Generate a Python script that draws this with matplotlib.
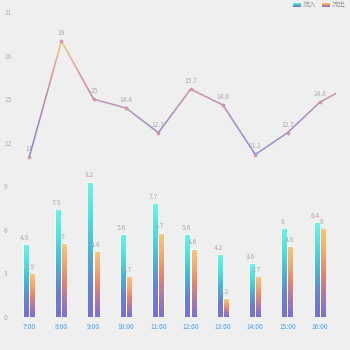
import matplotlib
matplotlib.use('Agg')
import matplotlib.pyplot as plt
import numpy as np
from matplotlib.collections import LineCollection
from matplotlib.colors import LinearSegmentedColormap, Normalize

plt.rcParams['font.family'] = ['Noto Sans CJK SC', 'DejaVu Sans']

# data
hours = ['7:00', '8:00', '9:00', '10:00', '11:00', '12:00', '13:00', '14:00', '15:00', '16:00']
inflow = [4.9, 7.3, 9.2, 5.6, 7.7, 5.6, 4.2, 3.6, 6, 6.4]
outflow = [2.9, 5, 4.4, 2.7, 5.7, 4.6, 1.2, 2.7, 4.8, 6]
# top line, last value runs off the right edge
line_vals = [11, 19, 15, 14.4, 12.7, 15.7, 14.6, 11.2, 12.7, 14.8, 16]
top_ticks = [12, 15, 18, 21]
bottom_ticks = [0, 3, 6, 9]

bg = '#efefef'
grey = '#aaaaaa'
blue = '#4a9fe6'

in_cmap = LinearSegmentedColormap.from_list('in', ['#7870d4', '#6284d0', '#44b8d6', '#4ee0de', '#6af2ec'])
out_cmap = LinearSegmentedColormap.from_list('out', ['#7870d4', '#ae78a8', '#e6846e', '#f4aa6c', '#f8c478'])
line_cmap = LinearSegmentedColormap.from_list('ln', ['#7d7fdc', '#a27fbc', '#cf8890', '#f6c47c'])

fig = plt.figure(figsize=(3.5, 3.5), dpi=100, facecolor=bg)

# ---------------- top line chart ----------------
ax1 = fig.add_axes([0.0371, 0.5086, 0.923, 0.478])
ax1.set_facecolor('none')
x = np.arange(len(line_vals))
ax1.set_xlim(-0.5, 9.5)
ax1.set_ylim(10, 21.5)

xs, ys = [], []
for i in range(len(line_vals) - 1):
    t = np.linspace(0, 1, 40, endpoint=False)
    xs.extend(x[i] + t)
    ys.extend(line_vals[i] + (line_vals[i + 1] - line_vals[i]) * t)
xs.append(x[-1]); ys.append(line_vals[-1])
xs = np.array(xs); ys = np.array(ys)
pts = np.array([xs, ys]).T.reshape(-1, 1, 2)
segs = np.concatenate([pts[:-1], pts[1:]], axis=1)
lc = LineCollection(segs, cmap=line_cmap, norm=Normalize(11, 19), linewidth=1.1)
lc.set_array((ys[:-1] + ys[1:]) / 2)
ax1.add_collection(lc)
ax1.scatter(x[:10], line_vals[:10], s=5, color='#ee9a8a', edgecolor='#b088c0', linewidth=0.4, zorder=3)
for i in range(10):
    v = line_vals[i]
    ax1.annotate('%g' % v, (x[i], v), xytext=(0, 3), textcoords='offset points',
                 ha='center', va='bottom', fontsize=4.8, color=grey)

ax1.set_yticks(top_ticks)
ax1.set_xticks([])
ax1.tick_params(axis='y', length=0, labelsize=4.8, labelcolor=grey, pad=1)
for s in ax1.spines.values():
    s.set_visible(False)

# ---------------- bottom bar chart ----------------
ax2 = fig.add_axes([0.0371, 0.0943, 0.923, 0.395])
ax2.set_facecolor('none')
bw = 0.135
off = 0.095
grad = np.linspace(0, 1, 256).reshape(-1, 1)
for i in range(len(hours)):
    for val, dx, cm in [(inflow[i], -off, in_cmap), (outflow[i], off, out_cmap)]:
        x0 = i + dx - bw / 2
        ax2.bar(i + dx, val + 0.08, width=bw + 0.06, color='white', alpha=0.7, linewidth=0, zorder=1)
        ax2.imshow(grad, cmap=cm, origin='lower', aspect='auto',
                   extent=[x0, x0 + bw, 0, val], zorder=2)
        ax2.text(i + dx - 0.05, val + 0.25, '%g' % val, ha='center', va='bottom',
                 fontsize=4.8, color=grey, zorder=3)
ax2.set_xlim(-0.5, 9.5)
ax2.set_ylim(0, 9.5)
ax2.set_xticks(range(len(hours)))
ax2.set_xticklabels(hours)
ax2.set_yticks(bottom_ticks)
ax2.tick_params(axis='x', length=0, labelsize=4.8, labelcolor=blue, pad=4)
ax2.tick_params(axis='y', length=0, labelsize=4.8, labelcolor=grey, pad=4)
for s in ax2.spines.values():
    s.set_visible(False)

# ---------------- legend ----------------
for lx, cm, name in [(293, in_cmap, '流入'), (322, out_cmap, '流出')]:
    sw = fig.add_axes([lx / 350, 1 - 7 / 350, 8 / 350, 4 / 350])
    sw.imshow(grad, cmap=cm, origin='lower', aspect='auto')
    sw.axis('off')
    fig.text((lx + 10) / 350, 1 - 5 / 350, name, fontsize=5, color='#999999', va='center')

fig.savefig('out.png', dpi=100, facecolor=bg)
